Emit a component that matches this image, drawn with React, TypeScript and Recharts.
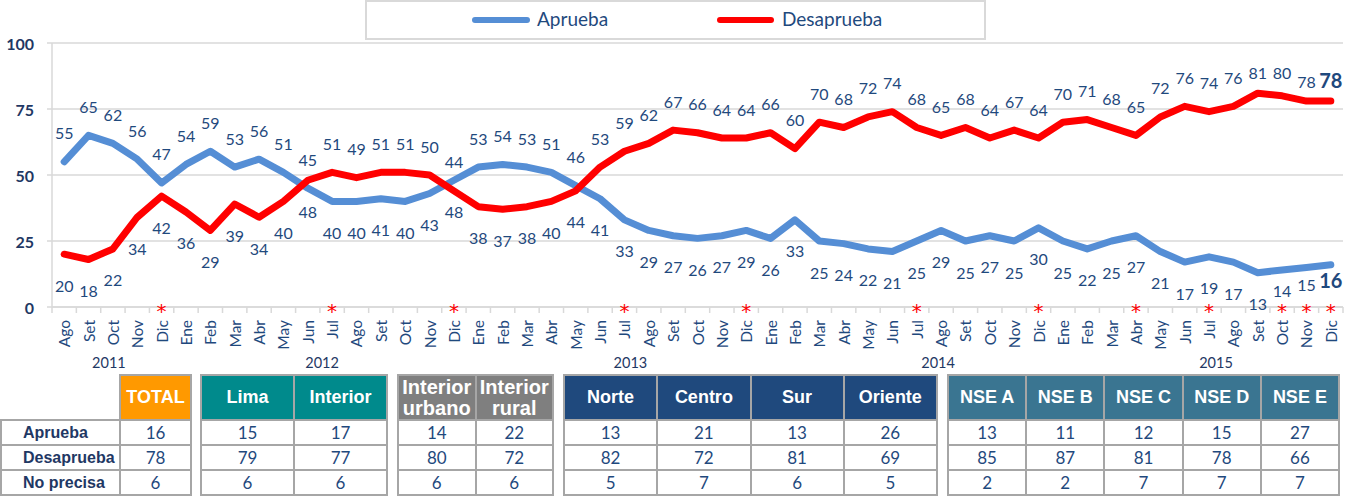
import React from "react";
import { ComposedChart, Line, XAxis, YAxis, CartesianGrid, LabelList } from "recharts";

// Periodos mensuales (Ago 2011 - Dic 2015)
const periods = [
  "Ago 2011", "Set 2011", "Oct 2011", "Nov 2011", "Dic 2011",
  "Ene 2012", "Feb 2012", "Mar 2012", "Abr 2012", "May 2012", "Jun 2012",
  "Jul 2012", "Ago 2012", "Set 2012", "Oct 2012", "Nov 2012", "Dic 2012",
  "Ene 2013", "Feb 2013", "Mar 2013", "Abr 2013", "May 2013", "Jun 2013",
  "Jul 2013", "Ago 2013", "Set 2013", "Oct 2013", "Nov 2013", "Dic 2013",
  "Ene 2014", "Feb 2014", "Mar 2014", "Abr 2014", "May 2014", "Jun 2014",
  "Jul 2014", "Ago 2014", "Set 2014", "Oct 2014", "Nov 2014", "Dic 2014",
  "Ene 2015", "Feb 2015", "Mar 2015", "Abr 2015", "May 2015", "Jun 2015",
  "Jul 2015", "Ago 2015", "Set 2015", "Oct 2015", "Nov 2015", "Dic 2015",
];

const aprueba = [
  55, 65, 62, 56, 47,
  54, 59, 53, 56, 51, 45, 40, 40, 41, 40, 43, 48,
  53, 54, 53, 51, 46, 41, 33, 29, 27, 26, 27, 29,
  26, 33, 25, 24, 22, 21, 25, 29, 25, 27, 25, 30,
  25, 22, 25, 27, 21, 17, 19, 17, 13, 14, 15, 16,
];

const desaprueba = [
  20, 18, 22, 34, 42,
  36, 29, 39, 34, 40, 48, 51, 49, 51, 51, 50, 44,
  38, 37, 38, 40, 44, 53, 59, 62, 67, 66, 64, 64,
  66, 60, 70, 68, 72, 74, 68, 65, 68, 64, 67, 64,
  70, 71, 68, 65, 72, 76, 74, 76, 81, 80, 78, 78,
];

// meses marcados con asterisco
const starred = [
  "Dic 2011", "Jul 2012", "Dic 2012", "Jul 2013", "Dic 2013", "Jul 2014",
  "Dic 2014", "Abr 2015", "Jul 2015", "Oct 2015", "Nov 2015", "Dic 2015",
];

const yTicks = [0, 25, 50, 75, 100];

// tabla inferior
const rowLabels = ["Aprueba", "Desaprueba", "No precisa"];
const tableHeaders = [
  "TOTAL", "Lima", "Interior", "Interior urbano", "Interior rural",
  "Norte", "Centro", "Sur", "Oriente", "NSE A", "NSE B", "NSE C", "NSE D", "NSE E",
];
const tableAprueba = [16, 15, 17, 14, 22, 13, 21, 13, 26, 13, 11, 12, 15, 27];
const tableDesaprueba = [78, 79, 77, 80, 72, 82, 72, 81, 69, 85, 87, 81, 78, 66];
const tableNoPrecisa = [6, 6, 6, 6, 6, 5, 7, 6, 5, 2, 2, 7, 7, 7];

// layout / styling
const W = 1359;
const CHART_H = 370;
const PLOT_LEFT = 52;
const PLOT_RIGHT = 1343;
const STEP = (PLOT_RIGHT - PLOT_LEFT) / periods.length;
const BLUE = "#558ED5";
const RED = "#FF0000";
const TEXT = "#1F497D";
const DARK = "#1F3864";
const GRID = "#d9d9d9";
const FONT = "Lato, 'Open Sans', sans-serif";
const HEAD_FONT = "'Liberation Sans', Arial, sans-serif";

// year captions: anchor month + pixel shift
const yearCaptions = [
  { year: "2011", at: "Oct 2011", dx: -4 },
  { year: "2012", at: "Jul 2012", dx: -10 },
  { year: "2013", at: "Jul 2013", dx: 6 },
  { year: "2014", at: "Ago 2014", dx: -3 },
  { year: "2015", at: "Jul 2015", dx: 7 },
];

// where the blue labels sit above the line
const blueAbove = (i: number) => (i >= 0 && i <= 10) || (i >= 17 && i <= 21);
const nudgeA: Record<number, number> = { 50: 20, 51: 17, 52: 15 };
const nudgeD: Record<number, number> = { 49: -21, 50: -23, 51: -20, 52: -21 };

const data = periods.map((p, i) => ({
  period: p,
  aprueba: aprueba[i],
  desaprueba: desaprueba[i],
}));

const MonthTick = (props: any) => {
  const { x, y, payload } = props;
  const value = String(payload.value);
  const mon = value.split(" ")[0];
  const isLast = value === periods[periods.length - 1];
  const cap = yearCaptions.find((c) => c.at === value);
  return (
    <g>
      <line x1={x - STEP / 2} x2={x - STEP / 2} y1={y} y2={y + 6} stroke={GRID} strokeWidth={1.5} />
      {isLast && (
        <line x1={x + STEP / 2} x2={x + STEP / 2} y1={y} y2={y + 6} stroke={GRID} strokeWidth={1.5} />
      )}
      <text
        transform={`translate(${x},${y + 13}) rotate(-90)`}
        textAnchor="end"
        dominantBaseline="central"
        fontSize={15.5}
        fontFamily={FONT}
        fill={TEXT}
      >
        {mon}
      </text>
      {starred.includes(value) && (
        <text
          x={x}
          y={y + 11}
          textAnchor="middle"
          fontSize={20}
          fontFamily="'DejaVu Sans', sans-serif"
          fill={RED}
        >
          *
        </text>
      )}
      {cap && (
        <text
          x={x + cap.dx}
          y={y + 55}
          textAnchor="middle"
          dominantBaseline="central"
          fontSize={14.5}
          fontFamily={FONT}
          fill={DARK}
        >
          {cap.year}
        </text>
      )}
    </g>
  );
};

const ValueTick = (props: any) => {
  const { x, y, payload } = props;
  return (
    <g>
      <line x1={x - 5} x2={x} y1={y} y2={y} stroke={GRID} strokeWidth={1.5} />
      <text
        x={x - 18}
        y={y}
        textAnchor="end"
        dominantBaseline="central"
        fontSize={16}
        fontWeight={700}
        fontFamily={FONT}
        fill={DARK}
      >
        {payload.value}
      </text>
    </g>
  );
};

const makeLabel = (series: "a" | "d") => (props: any) => {
  const index: number = props.index;
  const px = props.x ?? props.viewBox?.x;
  const py = props.y ?? props.viewBox?.y;
  if (px == null || py == null) return null;
  const above = series === "a" ? blueAbove(index) : !blueAbove(index);
  const nudge = (series === "a" ? nudgeA : nudgeD)[index];
  const dy = nudge !== undefined ? nudge : above ? -29 : 31;
  const isLast = index === periods.length - 1;
  return (
    <text
      key={`${series}-${index}`}
      x={px}
      y={py + dy}
      textAnchor="middle"
      dominantBaseline="central"
      fontSize={isLast ? 20 : 16}
      fontWeight={isLast ? 700 : 400}
      fontFamily={FONT}
      fill={TEXT}
    >
      {props.value}
    </text>
  );
};

const Legend = () => (
  <div
    style={{
      position: "absolute",
      left: 365,
      top: 0,
      width: 621,
      height: 40,
      border: `2px solid ${GRID}`,
      boxSizing: "border-box",
      fontFamily: FONT,
      fontSize: 19,
      color: TEXT,
    }}
  >
    <div style={{ position: "absolute", left: 105, top: 15, width: 58, height: 6, borderRadius: 3, background: BLUE }} />
    <div style={{ position: "absolute", left: 170, top: 5, lineHeight: "24px" }}>Aprueba</div>
    <div style={{ position: "absolute", left: 350, top: 15, width: 57, height: 6, borderRadius: 3, background: RED }} />
    <div style={{ position: "absolute", left: 415, top: 5, lineHeight: "24px" }}>Desaprueba</div>
  </div>
);

const groups = [
  { left: 119, width: 73, start: 0, count: 1, color: "#FF9900", twoLine: false },
  { left: 200, width: 188, start: 1, count: 2, color: "#008A8C", twoLine: false },
  { left: 397, width: 157, start: 3, count: 2, color: "#7F7F7F", twoLine: true },
  { left: 563, width: 375, start: 5, count: 4, color: "#1F497D", twoLine: false },
  { left: 947, width: 393, start: 9, count: 5, color: "#3A7591", twoLine: false },
];

const TABLE_TOP = 374;
const BORDER = "#A6A6A6";

const cellStyle: React.CSSProperties = {
  background: "#fff",
  display: "flex",
  alignItems: "center",
  justifyContent: "center",
  fontFamily: FONT,
  fontSize: 17,
  color: TEXT,
};

const Table = () => {
  const rows = [tableAprueba, tableDesaprueba, tableNoPrecisa];
  return (
    <>
      <div
        style={{
          position: "absolute",
          left: 0,
          top: TABLE_TOP + 45,
          width: 121,
          boxSizing: "border-box",
          padding: 2,
          display: "grid",
          gridTemplateRows: "23px 23px 23px",
          gap: 2,
          background: BORDER,
        }}
      >
        {rowLabels.map((l) => (
          <div
            key={l}
            style={{
              ...cellStyle,
              justifyContent: "flex-start",
              paddingLeft: 21,
              fontFamily: HEAD_FONT,
              fontWeight: 700,
              fontSize: 16,
              color: DARK,
            }}
          >
            {l}
          </div>
        ))}
      </div>
      {groups.map((g, gi) => {
        const idx = Array.from({ length: g.count }, (_, k) => g.start + k);
        return (
          <div
            key={gi}
            style={{
              position: "absolute",
              left: g.left,
              top: TABLE_TOP,
              width: g.width,
              boxSizing: "border-box",
              padding: 2,
              display: "grid",
              gridTemplateColumns: `repeat(${g.count}, 1fr)`,
              gridTemplateRows: "43px 23px 23px 23px",
              gap: 2,
              background: BORDER,
            }}
          >
            {idx.map((c) => {
              const name = tableHeaders[c];
              const sp = name.indexOf(" ");
              return (
                <div
                  key={`h${c}`}
                  style={{
                    background: g.color,
                    color: "#fff",
                    fontFamily: HEAD_FONT,
                    fontWeight: 700,
                    fontSize: g.twoLine ? 20 : 18,
                    lineHeight: "21px",
                    display: "flex",
                    alignItems: "center",
                    justifyContent: "center",
                    textAlign: "center",
                  }}
                >
                  {g.twoLine && sp > 0 ? (
                    <span>
                      {name.slice(0, sp)}
                      <br />
                      {name.slice(sp + 1)}
                    </span>
                  ) : (
                    name
                  )}
                </div>
              );
            })}
            {rows.map((r, ri) =>
              idx.map((c) => (
                <div key={`r${ri}-${c}`} style={cellStyle}>
                  {r[c]}
                </div>
              ))
            )}
          </div>
        );
      })}
    </>
  );
};

export default function App() {
  return (
    <div
      style={{
        position: "absolute",
        left: 0,
        top: 0,
        width: W,
        height: 496,
        background: "#fff",
        overflow: "hidden",
      }}
    >
      <ComposedChart
        width={W}
        height={CHART_H}
        data={data}
        margin={{ top: 43, right: W - PLOT_RIGHT, bottom: 0, left: 0 }}
      >
        <CartesianGrid vertical={false} stroke={GRID} strokeWidth={1.5} />
        <XAxis
          dataKey="period"
          scale="band"
          interval={0}
          height={CHART_H - 43 - 264}
          tickSize={0}
          tickMargin={0}
          tickLine={false}
          axisLine={{ stroke: GRID, strokeWidth: 1.5 }}
          tick={<MonthTick />}
        />
        <YAxis
          width={PLOT_LEFT}
          domain={[0, 100]}
          ticks={yTicks}
          tickSize={0}
          tickMargin={0}
          tickLine={false}
          axisLine={{ stroke: GRID, strokeWidth: 1.5 }}
          tick={<ValueTick />}
        />
        <Line
          dataKey="aprueba"
          stroke={BLUE}
          strokeWidth={7}
          strokeLinejoin="round"
          strokeLinecap="round"
          dot={false}
          activeDot={false}
          isAnimationActive={false}
        >
          <LabelList dataKey="aprueba" content={makeLabel("a")} />
        </Line>
        <Line
          dataKey="desaprueba"
          stroke={RED}
          strokeWidth={7}
          strokeLinejoin="round"
          strokeLinecap="round"
          dot={false}
          activeDot={false}
          isAnimationActive={false}
        >
          <LabelList dataKey="desaprueba" content={makeLabel("d")} />
        </Line>
      </ComposedChart>
      <Legend />
      <Table />
    </div>
  );
}
